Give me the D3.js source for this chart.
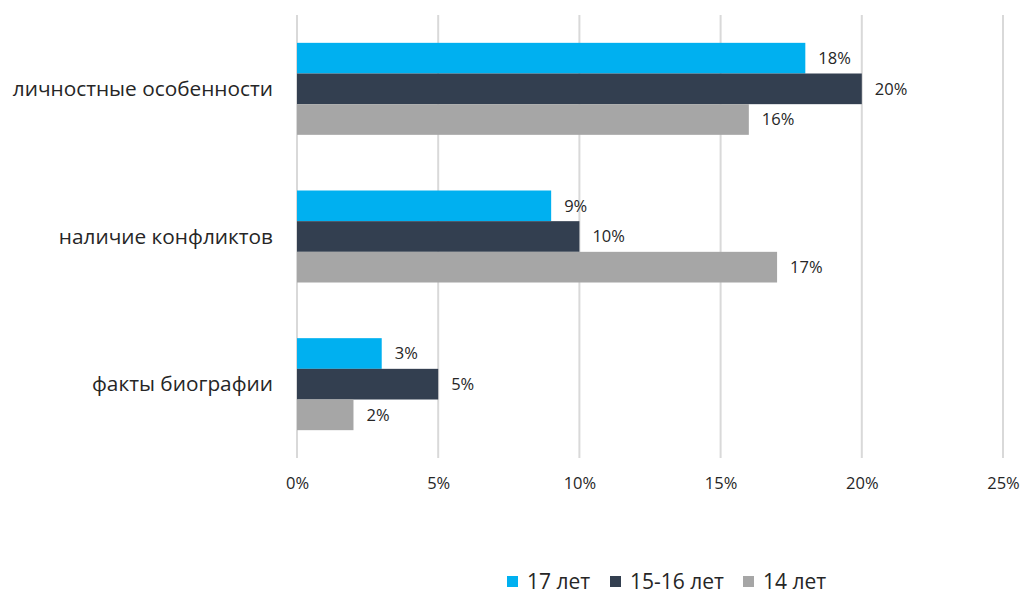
<!DOCTYPE html>
<html>
<head>
<meta charset="utf-8">
<script src="https://cdn.jsdelivr.net/npm/d3@7"></script>
<style>
  body { margin: 0; background: #fff; }
  text { font-family: "Open Sans", sans-serif; fill: #262626; }
</style>
</head>
<body>
<div id="chart"></div>
<script>
const categories = ["личностные особенности", "наличие конфликтов", "факты биографии"]
const seriesNames = ["17 лет", "15-16 лет", "14 лет"]
const colors = ["#00B0F0", "#333F50", "#A6A6A6"]
const values17 = [18, 9, 3]
const values1516 = [20, 10, 5]
const values14 = [16, 17, 2]
const ticks = [0, 5, 10, 15, 20, 25]

const series = [values17, values1516, values14]

const margin = ({top: 15, right: 19, bottom: 137, left: 297})
const width = 1022 - margin.left - margin.right,
  height = 595 - margin.top - margin.bottom;

const svg = d3.select("#chart").append("svg")
    .attr("width", 1022)
    .attr("height", 595)
  .append("g")
    .attr("transform", "translate(" + margin.left + "," + margin.top + ")");

const xScale = d3.scaleLinear()
    .domain([0, 25])
    .range([0, 706])

const yScale = d3.scaleBand()
    .domain(categories)
    .range([0, height])
    .paddingInner(0.377)
    .paddingOuter(0.1885)

const ySub = d3.scaleBand()
    .domain(seriesNames)
    .range([0, yScale.bandwidth()])

// gridlines
svg.append("g")
  .selectAll("line")
  .data(ticks)
  .join("line")
    .attr("x1", d => xScale(d))
    .attr("x2", d => xScale(d))
    .attr("y1", 0)
    .attr("y2", height)
    .attr("stroke", "#D9D9D9")
    .attr("stroke-width", 2)

// x tick labels
const xAxis = d3.axisBottom(xScale)
    .tickValues(ticks)
    .tickSize(0)
    .tickPadding(19)
    .tickFormat(d => d + "%")

svg.append("g")
    .attr("class", "axis x-axis")
    .attr("transform", `translate(0, ${height})`)
    .call(xAxis)
    .call(g => g.select(".domain").remove())
    .selectAll("text")
    .style("font-family", "'Open Sans', sans-serif")
    .style("font-size", "16.5px")
    .style("fill", "#262626")

// category labels
svg.append("g")
  .selectAll("text")
  .data(categories)
  .join("text")
    .attr("x", -24)
    .attr("y", d => yScale(d) + yScale.bandwidth() / 2)
    .attr("dy", "0.35em")
    .attr("text-anchor", "end")
    .style("font-size", "20.8px")
    .text(d => d)

// bars
seriesNames.forEach((name, i) => {
  const g = svg.append("g")
  g.selectAll("rect")
    .data(series[i])
    .join("rect")
      .attr("x", xScale(0))
      .attr("y", (d, j) => yScale(categories[j]) + ySub(name))
      .attr("width", d => xScale(d) - xScale(0))
      .attr("height", ySub.bandwidth())
      .attr("fill", colors[i])
  g.selectAll("text")
    .data(series[i])
    .join("text")
      .attr("x", d => xScale(d) + 13)
      .attr("y", (d, j) => yScale(categories[j]) + ySub(name) + ySub.bandwidth() / 2)
      .attr("dy", "0.35em")
      .style("font-size", "16.5px")
      .text(d => d + "%")
})

// legend
const legendX = [507, 610, 743]
const legend = d3.select("svg").append("g")
legend.selectAll("rect")
  .data(seriesNames)
  .join("rect")
    .attr("x", (d, i) => legendX[i])
    .attr("y", 576)
    .attr("width", 11)
    .attr("height", 11)
    .attr("fill", (d, i) => colors[i])
legend.selectAll("text")
  .data(seriesNames)
  .join("text")
    .attr("x", (d, i) => legendX[i] + 20)
    .attr("y", 582)
    .attr("dy", "0.35em")
    .style("font-size", "21px")
    .text(d => d)
</script>
</body>
</html>
